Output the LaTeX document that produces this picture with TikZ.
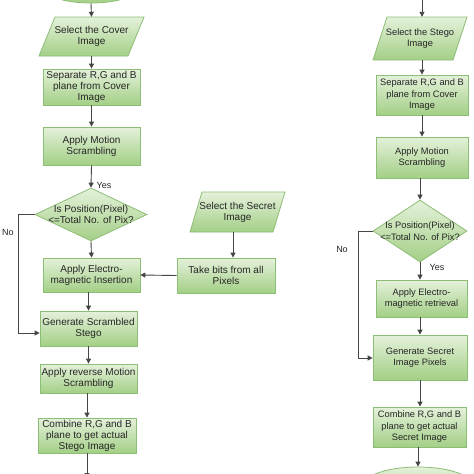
\documentclass[tikz,border=0pt]{standalone}
\usepackage{fontspec}
\setmainfont{Liberation Sans}
\usetikzlibrary{shapes.geometric,arrows.meta,calc}
\definecolor{gtop}{HTML}{E4F1DA}
\definecolor{gbot}{HTML}{A3CF86}
\definecolor{gline}{HTML}{8DBE76}
\definecolor{lne}{HTML}{454545}
\definecolor{txt}{HTML}{262626}
\begin{document}
\begin{tikzpicture}[x=1pt,y=-1pt,
  fillst/.style={draw=gline, line width=0.8pt, top color=gtop, bottom color=gbot},
  proc/.style={fillst, rectangle, text=txt, align=center, inner sep=1pt, font=\fontsize{10}{11}\selectfont},
  procR/.style={proc, font=\fontsize{9.3}{11.5}\selectfont},
  iotext/.style={rectangle, text=txt, align=center, inner sep=1pt, font=\fontsize{10}{11}\selectfont},
  dec/.style={fillst, diamond, inner sep=0pt},
  dtext/.style={text=txt, align=center, inner sep=0pt, font=\fontsize{10}{11}\selectfont},
  term/.style={fillst, ellipse, inner sep=0pt},
  arr/.style={draw=lne, line width=0.9pt, -{Triangle[length=5pt,width=5pt]}},
  lbl/.style={text=txt, inner sep=0pt, font=\fontsize{9}{10}\selectfont}]
\path[use as bounding box] (0,0) rectangle (474,474);
\fill[white] (0,0) rectangle (474,474);
\clip (0,0) rectangle (474,474);

% ---------------- Left column ----------------
\node[term, minimum width=100pt, minimum height=34pt] (startL) at (91,-14) {};
\path[fillst] (39,56) -- (128,56) -- (144,17) -- (55,17) -- cycle;
\node[iotext, minimum width=89pt, minimum height=39pt] (coverL) at (91.5,36.5) {Select the Cover\\Image};
\node[proc, minimum width=97pt, minimum height=36pt] (sepL) at (91.5,87) {Separate R,G and B\\plane from Cover\\Image};
\node[proc, minimum width=97pt, minimum height=38pt] (motL) at (91.5,146) {Apply Motion\\Scrambling};
\node[dec, minimum width=112pt, minimum height=53pt,
      label={[dtext]center:Is Position(Pixel)\\<=Total No. of Pix?}] (decL) at (91,214.5) {};
\node[proc, minimum width=97pt, minimum height=34pt] (insL) at (91.5,275) {Apply Electro-\\magnetic Insertion};
\node[proc, minimum width=97pt, minimum height=35pt] (genL) at (88.5,328.5) {Generate Scrambled\\Stego};
\node[proc, minimum width=97pt, minimum height=29pt] (revL) at (88.5,378.5) {Apply reverse Motion\\Scrambling};
\node[proc, minimum width=98pt, minimum height=35pt] (combL) at (87,435.5) {Combine R,G and B\\plane to get actual\\Stego Image};
\coordinate (outL) at (87,478);

\draw[arr] (startL.south) -- (coverL.north);
\draw[arr] (coverL.south) -- (sepL.north);
\draw[arr] (sepL.south) -- (motL.north);
\draw[arr] (motL.south) -- (decL.north);
\draw[arr] (decL.south) -- (insL.north);
\draw[arr] (insL.south -| genL.north) -- (genL.north);
\draw[arr] (genL.south) -- (revL.north);
\draw[arr] (revL.south -| combL.north) -- (combL.north);
\draw[arr] (combL.south) -- (outL);
\draw[arr] (decL.west) -- (18,214.5) -- (18,333) -- ([yshift=-4.5pt]genL.west);
\node[lbl] (yesL) at (104,185) {Yes};
\node[lbl] (noL) at (8,232) {No};

% ---------------- Secret input ----------------
\path[fillst] (190,232) -- (273,232) -- (285,192) -- (202,192) -- cycle;
\node[iotext, minimum width=83pt, minimum height=40pt] (secP) at (237.5,212) {Select the Secret\\Image};
\node[proc, minimum width=98pt, minimum height=35pt] (takeR) at (226,275.5) {Take bits from all\\Pixels};
\draw[arr] ([xshift=-4.5pt]secP.south) -- ([xshift=-4.5pt]secP.south |- takeR.north);
\draw[arr] (takeR.west) -- (insL.east);

% ---------------- Right column ----------------
\coordinate (topR) at (422,-2);
\path[fillst] (373,60) -- (453,60) -- (467,17) -- (387,17) -- cycle;
\node[iotext, minimum width=80pt, minimum height=43pt, font=\fontsize{9.3}{11.5}\selectfont] (stegoR) at (420,38.5) {Select the Stego\\Image};
\node[procR, minimum width=92pt, minimum height=40pt] (sepR) at (422,95) {Separate R,G and B\\plane from Cover\\Image};
\node[procR, minimum width=92pt, minimum height=41pt] (motR) at (422,157.5) {Apply Motion\\Scrambling};
\node[dec, minimum width=94pt, minimum height=62pt,
      label={[dtext, font=\fontsize{9.3}{11.5}\selectfont]center:Is Position(Pixel)\\<=Total No. of Pix?}] (decR) at (420,231) {};
\node[procR, minimum width=91pt, minimum height=37pt] (retR) at (421.5,298.5) {Apply Electro-\\magnetic retrieval};
\node[procR, minimum width=94pt, minimum height=45pt] (genR) at (420,357.5) {Generate Secret\\Image Pixels};
\node[procR, minimum width=93pt, minimum height=40pt] (combR) at (419.5,427) {Combine R,G and B\\plane to get actual\\Secret Image};
\node[term, minimum width=108pt, minimum height=36pt] (endR) at (418,485) {};

\draw[arr] (topR) -- (topR |- stegoR.north);
\draw[arr] (stegoR.south -| sepR.north) -- (sepR.north);
\draw[arr] (sepR.south) -- (motR.north);
\draw[arr] (motR.south -| decR.north) -- (decR.north);
\draw[arr] (decR.south) -- (retR.north -| decR.south);
\draw[arr] (retR.south -| genR.north) -- (genR.north);
\draw[arr] (genR.south) -- (combR.north -| genR.south);
\draw[arr] (combR.south -| endR.north) -- (endR.north);
\draw[arr] (decR.west) -- (358,231) -- (358,358) -- (genR.west |- 0,358);
\node[lbl] (yesR) at (437,267) {Yes};
\node[lbl] (noR) at (342,249) {No};
\end{tikzpicture}
\end{document}
